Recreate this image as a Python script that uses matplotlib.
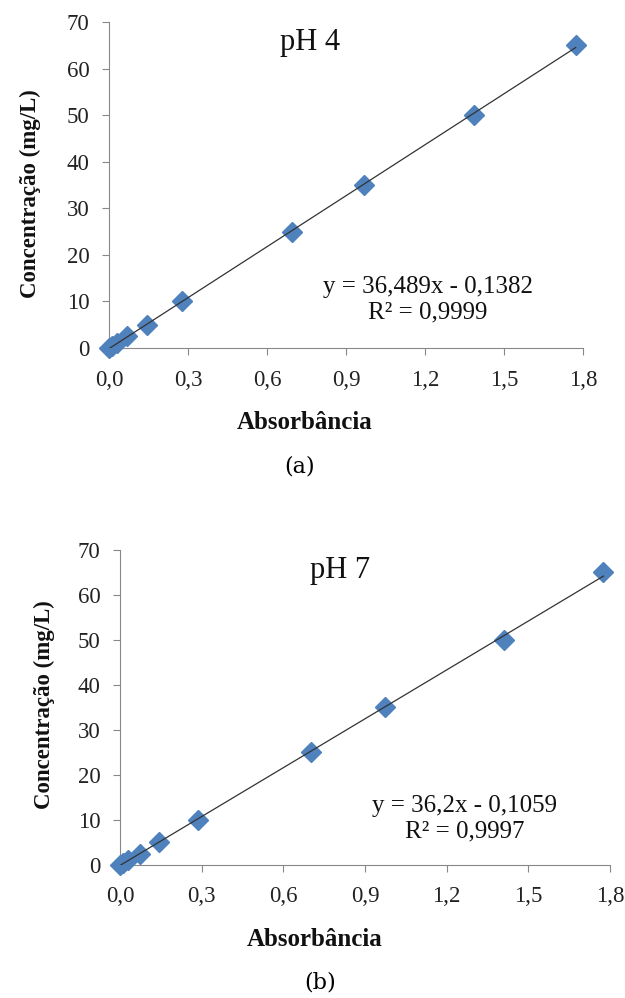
import matplotlib
matplotlib.use("Agg")
import matplotlib.pyplot as plt
import numpy as np

# calibration data
conc = [0, 0.5, 1, 2.5, 5, 10, 25, 35, 50, 65]
abs_ph4 = [0.0, 0.012, 0.03, 0.07, 0.145, 0.278, 0.695, 0.967, 1.385, 1.772]
abs_ph7 = [0.0, 0.012, 0.03, 0.075, 0.145, 0.285, 0.70, 0.975, 1.41, 1.776]
fit_ph4 = (36.489, -0.1382)
fit_ph7 = (36.2, -0.1059)
xticks = [0.0, 0.3, 0.6, 0.9, 1.2, 1.5, 1.8]
xticklabels = ["0,0", "0,3", "0,6", "0,9", "1,2", "1,5", "1,8"]
yticks = [0, 10, 20, 30, 40, 50, 60, 70]

serif = "Liberation Serif"
blue = "#4F81BD"

fig = plt.figure(figsize=(6.25, 9.98), dpi=100)

def panel(rect, xs, fit, title, eq, r2, title_xy, eq_xy):
    ax = fig.add_axes(rect)
    ax.plot(xs, conc, linestyle="none", marker="D", ms=10, color=blue,
            markeredgecolor=blue, zorder=3, clip_on=False)
    xl = np.array([min(xs), max(xs)])
    ax.plot(xl, fit[0] * xl + fit[1], color="#333333", lw=0.9, zorder=4)
    ax.set_xlim(0, 1.8)
    ax.set_ylim(0, 70)
    ax.set_xticks(xticks)
    ax.set_xticklabels(xticklabels)
    ax.set_yticks(yticks)
    for s in ["top", "right"]:
        ax.spines[s].set_visible(False)
    for s in ["left", "bottom"]:
        ax.spines[s].set_color("#888888")
    ax.tick_params(direction="out", length=5, color="#888888",
                   labelsize=16.5, labelcolor="#222222")
    ax.tick_params(axis="x", pad=10.5)
    ax.tick_params(axis="y", pad=9)
    for lab in ax.get_xticklabels() + ax.get_yticklabels():
        lab.set_fontfamily(serif)
    ax.text(title_xy[0], title_xy[1], title, fontsize=22, family=serif,
            ha="center", va="center", color="#111111")
    ax.text(eq_xy[0], eq_xy[1], eq + "\n" + r2, fontsize=18, family=serif,
            ha="center", va="center", color="#111111", linespacing=1.2)
    return ax

panel([0.1744, 0.6513, 0.7586, 0.3267], abs_ph4, fit_ph4, "pH 4",
      "y = 36,489x - 0,1382", "R² = 0,9999", (0.765, 65.6), (1.21, 10.3))
panel([0.192, 0.1333, 0.784, 0.3157], abs_ph7, fit_ph7, "pH 7",
      "y = 36,2x - 0,1059", "R² = 0,9997", (0.81, 65.5), (1.265, 10.3))

fig.text(305 / 625, 1 - 423 / 998, "Absorbância", fontsize=18, family=serif,
         weight="bold", ha="center", va="center", color="#111111")
fig.text(315 / 625, 1 - 940 / 998, "Absorbância", fontsize=18, family=serif,
         weight="bold", ha="center", va="center", color="#111111")
fig.text(30 / 625, 1 - 194 / 998, "Concentração (mg/L)", fontsize=16.5,
         family=serif, weight="bold", rotation=90, ha="center", va="center",
         color="#111111")
fig.text(44 / 625, 1 - 705 / 998, "Concentração (mg/L)", fontsize=16.5,
         family=serif, weight="bold", rotation=90, ha="center", va="center",
         color="#111111")
fig.text(300 / 625, 1 - 467 / 998, "(a)", fontsize=16, family="DejaVu Serif",
         ha="center", va="center")
fig.text(320 / 625, 1 - 983 / 998, "(b)", fontsize=16, family="DejaVu Serif",
         ha="center", va="center")

fig.savefig("out.png", dpi=100)
